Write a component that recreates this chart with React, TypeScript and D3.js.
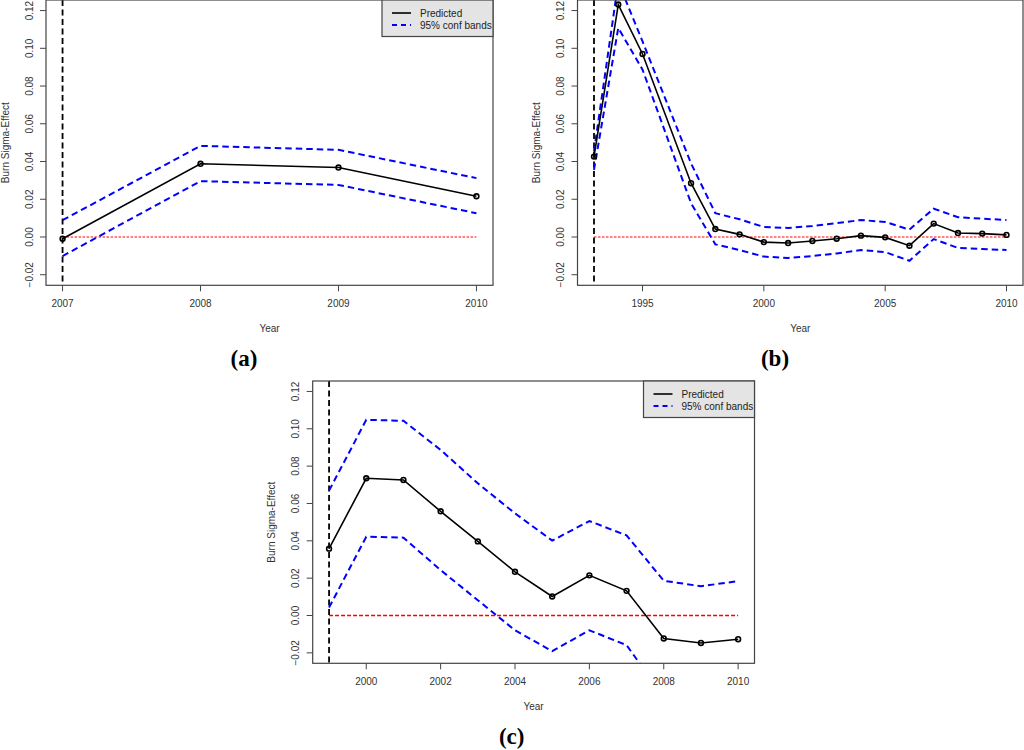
import React from "react";
import * as d3 from "d3";

// ---------- data ----------
const yearsA = [2007, 2008, 2009, 2010];
const predA = [-0.0009, 0.0388, 0.0368, 0.0216];
const upperA = [0.0089, 0.0483, 0.0462, 0.0312];
const lowerA = [-0.0101, 0.0296, 0.0276, 0.0126];

const yearsB = [1993, 1994, 1995, 1997, 1998, 1999, 2000, 2001, 2002, 2003, 2004, 2005, 2006, 2007, 2008, 2009, 2010];
const predB = [0.0426, 0.1232, 0.097, 0.0285, 0.0042, 0.0014, -0.0027, -0.0032, -0.0021, -0.0009, 0.0007, -0.0002, -0.0046, 0.0071, 0.0021, 0.0018, 0.0011];
const upperB = [0.0453, 0.135, 0.1037, 0.039, 0.0126, 0.0094, 0.0053, 0.0048, 0.0058, 0.0073, 0.009, 0.008, 0.0039, 0.015, 0.0105, 0.0097, 0.009];
const lowerB = [0.0356, 0.1108, 0.0887, 0.0179, -0.0039, -0.0069, -0.0104, -0.0111, -0.0101, -0.0087, -0.0069, -0.008, -0.0126, -0.0011, -0.0058, -0.0064, -0.0069];

const yearsC = [1999, 2000, 2001, 2002, 2003, 2004, 2005, 2006, 2007, 2008, 2009, 2010];
const predC = [0.0358, 0.0735, 0.0726, 0.0558, 0.0397, 0.0234, 0.0102, 0.0215, 0.0132, -0.0123, -0.0147, -0.0127];
const upperC = [0.0669, 0.1048, 0.1043, 0.0887, 0.0708, 0.0547, 0.0401, 0.0506, 0.0429, 0.0186, 0.0157, 0.0184];
const lowerC = [0.0043, 0.0422, 0.0417, 0.0243, 0.0082, -0.0079, -0.0191, -0.0079, -0.0159, -0.0435, -0.046, -0.044];

const xTicksA = [2007, 2008, 2009, 2010];
const xTicksB = [1995, 2000, 2005, 2010];
const xTicksC = [2000, 2002, 2004, 2006, 2008, 2010];
const yTicks = [-0.02, 0, 0.02, 0.04, 0.06, 0.08, 0.1, 0.12];
const yLim = [-0.02, 0.12];

const legendLabels = ["Predicted", "95% conf bands"];
const xTitle = "Year";
const yTitle = "Burn Sigma-Effect";

const FONT = "'Liberation Sans', Arial, sans-serif";

type PanelProps = {
  id: string;
  left: number;
  right: number;
  top: number;
  bottom: number;
  years: number[];
  pred: number[];
  upper: number[];
  lower: number[];
  xTicks: number[];
  legend: boolean;
  thinRed: boolean;
  label: string;
  labelX: number;
  labelY: number;
};

function Panel(p: PanelProps) {
  const xmin = d3.min(p.years) as number;
  const xmax = d3.max(p.years) as number;
  const xr = (xmax - xmin) * 0.04;
  const yr = (yLim[1] - yLim[0]) * 0.04;
  const x = d3.scaleLinear().domain([xmin - xr, xmax + xr]).range([p.left, p.right]);
  const y = d3.scaleLinear().domain([yLim[0] - yr, yLim[1] + yr]).range([p.bottom, p.top]);
  const line = d3
    .line<number>()
    .x((_, i) => x(p.years[i]))
    .y((v) => y(v));
  const clip = `clip-${p.id}`;
  const cx = (p.left + p.right) / 2;
  const cy = (p.top + p.bottom) / 2;
  const lgW = 111;
  const lgH = 36.5;
  const lgX = p.right - lgW;
  const lgY = p.top;
  return (
    <g>
      <defs>
        <clipPath id={clip}>
          <rect x={p.left} y={p.top} width={p.right - p.left} height={p.bottom - p.top} />
        </clipPath>
      </defs>
      <g clipPath={`url(#${clip})`}>
        <line
          x1={x(xmin)}
          x2={x(xmax)}
          y1={y(0)}
          y2={y(0)}
          stroke={p.thinRed ? "#ff0000" : "#ff8080"}
          strokeWidth={p.thinRed ? 1.4 : 2.2}
          strokeDasharray={p.thinRed ? "4,2" : "2.5,1.5"}
        />
        <line
          x1={x(xmin)}
          x2={x(xmin)}
          y1={p.top}
          y2={p.bottom}
          stroke="#000"
          strokeWidth={1.8}
          strokeDasharray="6,3.5"
        />
        <path d={line(p.upper) || ""} fill="none" stroke="#0000ff" strokeWidth={2} strokeDasharray="6.5,4" />
        <path d={line(p.lower) || ""} fill="none" stroke="#0000ff" strokeWidth={2} strokeDasharray="6.5,4" />
        <path d={line(p.pred) || ""} fill="none" stroke="#000" strokeWidth={1.6} />
        {p.pred.map((v, i) => (
          <circle key={i} cx={x(p.years[i])} cy={y(v)} r={2.4} fill="none" stroke="#000" strokeWidth={1.6} />
        ))}
      </g>
      <rect
        x={p.left}
        y={p.top}
        width={p.right - p.left}
        height={p.bottom - p.top}
        fill="none"
        stroke="#444"
        strokeWidth={1.2}
      />
      {yTicks.map((t) => (
        <g key={t}>
          <line x1={p.left - 6} x2={p.left} y1={y(t)} y2={y(t)} stroke="#444" strokeWidth={1} />
          <text
            transform={`translate(${p.left - 17},${y(t)}) rotate(-90)`}
            textAnchor="middle"
            dominantBaseline="central"
            fontFamily={FONT}
            fontSize={10}
            fill="#333"
          >
            {d3.format(".2f")(t)}
          </text>
        </g>
      ))}
      {p.xTicks.map((t) => (
        <g key={t}>
          <line x1={x(t)} x2={x(t)} y1={p.bottom} y2={p.bottom + 6} stroke="#444" strokeWidth={1} />
          <text
            x={x(t)}
            y={p.bottom + 18}
            textAnchor="middle"
            dominantBaseline="central"
            fontFamily={FONT}
            fontSize={10}
            fill="#333"
          >
            {t}
          </text>
        </g>
      ))}
      <text x={cx} y={p.bottom + 43} textAnchor="middle" dominantBaseline="central" fontFamily={FONT} fontSize={10} fill="#333">
        {xTitle}
      </text>
      <text
        transform={`translate(${p.left - 41},${cy}) rotate(-90)`}
        textAnchor="middle"
        dominantBaseline="central"
        fontFamily={FONT}
        fontSize={10}
        fill="#333"
      >
        {yTitle}
      </text>
      {p.legend && (
        <g>
          <rect x={lgX} y={lgY} width={lgW} height={lgH} fill="#e4e4e4" stroke="#444" strokeWidth={1.2} />
          <line x1={lgX + 10} x2={lgX + 29} y1={lgY + 13} y2={lgY + 13} stroke="#000" strokeWidth={1.6} />
          <line x1={lgX + 10} x2={lgX + 29} y1={lgY + 25} y2={lgY + 25} stroke="#0000ff" strokeWidth={2} strokeDasharray="5,4" />
          <text x={lgX + 38} y={lgY + 13} dominantBaseline="central" fontFamily={FONT} fontSize={10} fill="#222">
            {legendLabels[0]}
          </text>
          <text x={lgX + 38} y={lgY + 25} dominantBaseline="central" fontFamily={FONT} fontSize={10} fill="#222">
            {legendLabels[1]}
          </text>
        </g>
      )}
      <text
        x={p.labelX}
        y={p.labelY}
        textAnchor="middle"
        dominantBaseline="central"
        fontFamily="'Liberation Serif', 'Times New Roman', serif"
        fontSize={23}
        fontWeight="bold"
        fill="#000"
      >
        ({p.label})
      </text>
    </g>
  );
}

export default function App() {
  return (
    <svg
      width={1024}
      height={750}
      style={{ position: "absolute", left: 0, top: 0, background: "#fff" }}
    >
      <rect x={0} y={0} width={1024} height={750} fill="#fff" />
      <Panel
        id="a"
        left={46}
        right={493}
        top={0}
        bottom={285.3}
        years={yearsA}
        pred={predA}
        upper={upperA}
        lower={lowerA}
        xTicks={xTicksA}
        legend={true}
        thinRed={false}
        label="a"
        labelX={244}
        labelY={358}
      />
      <Panel
        id="b"
        left={577.5}
        right={1023}
        top={0}
        bottom={285.3}
        years={yearsB}
        pred={predB}
        upper={upperB}
        lower={lowerB}
        xTicks={xTicksB}
        legend={false}
        thinRed={false}
        label="b"
        labelX={775}
        labelY={358}
      />
      <Panel
        id="c"
        left={312.7}
        right={754.5}
        top={381}
        bottom={663.3}
        years={yearsC}
        pred={predC}
        upper={upperC}
        lower={lowerC}
        xTicks={xTicksC}
        legend={true}
        thinRed={true}
        label="c"
        labelX={511.7}
        labelY={736.7}
      />
    </svg>
  );
}
